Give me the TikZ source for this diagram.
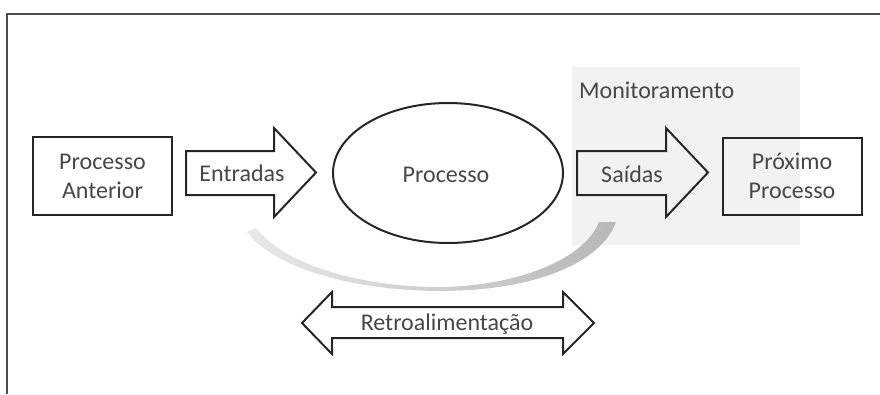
\documentclass[tikz,border=0pt]{standalone}
\usepackage{fontspec}
\setmainfont{Carlito}
\begin{document}
\begin{tikzpicture}[x=1pt,y=-1pt,
  outl/.style={draw=black!85,line width=2pt,line join=miter},
  lbl/.style={text=black!72,font=\fontsize{24}{29}\selectfont,align=center,inner sep=0pt}]
\useasboundingbox (0,0) rectangle (880,394);
% frame
\draw[black!70,line width=2.2pt] (7,394) -- (7,14) -- (880,14);
% monitoring area
\fill[black!5] (572,67) rectangle (800,245);
\node[lbl,anchor=west] (mon) at (579,90) {Monitoramento};
% feedback arc
\shade[left color=black!9,middle color=black!3,right color=black!28]
  (247,232) .. controls (275,270) and (360,291) .. (440,291)
  .. controls (530,291) and (600,265) .. (616,222)
  -- (599,222) .. controls (585,258) and (520,286) .. (440,287)
  .. controls (360,287) and (285,265) .. (256,228) -- cycle;
% previous process
\draw[outl] (33,137) rectangle (172,215);
\node[lbl] (prev) at (102.5,176) {Processo\\Anterior};
% Entradas arrow
\draw[outl] (186,151) -- (274,151) -- (274,128) -- (316,172.5) -- (274,217) -- (274,195) -- (186,195) -- cycle;
\node[lbl] (ent) at (242,173) {Entradas};
% process ellipse
\draw[outl] (448,173) ellipse [x radius=115, y radius=70];
\node[lbl] (proc) at (446,175) {Processo};
% Saidas arrow
\draw[outl] (577,151) -- (666,151) -- (666,128) -- (708,172.5) -- (666,217) -- (666,195) -- (577,195) -- cycle;
\node[lbl] (sai) at (632,174) {Saídas};
% next process
\draw[outl] (723,138) rectangle (862,215);
\node[lbl] (next) at (792,176) {Próximo\\Processo};
% feedback double arrow
\draw[outl] (302,323) -- (332,292) -- (332,307) -- (563,307) -- (563,292) -- (594,323)
  -- (563,354) -- (563,338) -- (332,338) -- (332,354) -- cycle;
\node[lbl] (retro) at (447,324) {Retroalimentação};
\end{tikzpicture}
\end{document}
